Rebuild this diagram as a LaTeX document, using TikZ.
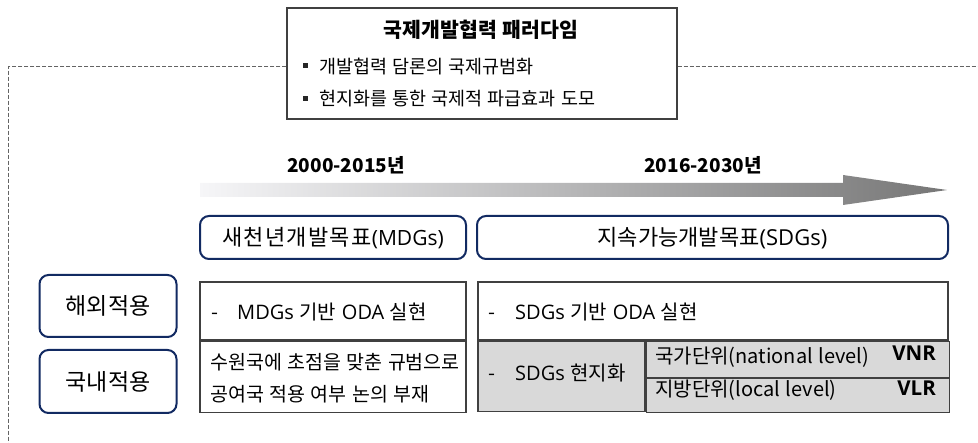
\documentclass[tikz,border=0pt]{standalone}
\usepackage{fontspec}
\setmainfont[WordSpace=1.25]{Noto Sans CJK KR}
\newfontfamily\lat{Open Sans}
\definecolor{navy}{RGB}{18,42,98}
\definecolor{tline}{RGB}{64,64,64}
\definecolor{cellgray}{RGB}{217,217,217}
\definecolor{dashgray}{RGB}{100,100,100}
\newcommand{\fs}[1]{\fontsize{#1}{#1}\selectfont}
\begin{document}
\begin{tikzpicture}[x=1pt,y=-1pt,
  topbox/.style={draw=tline,line width=1.3pt,minimum width=390pt,minimum height=111pt,inner sep=0},
  dashline/.style={draw=dashgray,line width=1pt,dash pattern=on 4pt off 2pt},
  bluebox/.style={draw=navy,line width=2pt,rounded corners=9pt,fill=white,inner sep=0,font=\fs{22},text height=19.4pt,text depth=2.6pt},
  labbox/.style={bluebox,font=\fs{23},text height=20.2pt,text depth=2.8pt,minimum width=137pt},
  cell/.style={draw=tline,line width=1.3pt,inner sep=0},
  txt/.style={anchor=west,inner sep=0,font=\fs{20},text height=17.6pt,text depth=2.4pt},
  stxt/.style={txt,font=\fs{19.5},text height=17.2pt,text depth=2.3pt},
  btxt/.style={anchor=west,inner sep=0,font=\fs{18.5},text height=16.3pt,text depth=2.2pt},
  yearlbl/.style={inner sep=0,font=\bfseries\fs{19}},
  bsq/.style={fill=black!85,minimum size=5pt,inner sep=0},
  codebold/.style={anchor=east,inner sep=0,font=\lat\bfseries\fs{20.5},text height=14.8pt,text depth=0pt}]
\useasboundingbox (0,0) rectangle (978,443);

% top box
\node[topbox] (top) at (482,63.5) {};
\node[inner sep=0,font=\bfseries\fs{20.5},text height=18pt,text depth=2.5pt] (title) at (481,30) {국제개발협력 패러다임};
\node[bsq] (sq1) at (305,66) {};
\node[btxt] (b1) at (319,66) {개발협력 담론의 국제규범화};
\node[bsq] (sq2) at (305,99) {};
\node[btxt] (b2) at (319,98) {현지화를 통한 국제적 파급효과 도모};

% dashed frame line
\coordinate (dl) at (8,67);
\coordinate (db) at (8,443);
\coordinate (dr) at (978,67);
\draw[dashline] (top.west |- dl) -- (dl) -- (db);
\draw[dashline] (top.east |- dr) -- (dr);

% timeline arrow
\shade[left color={rgb,255:red,246;green,246;blue,248},right color={rgb,255:red,118;green,118;blue,118}]
  (200,183) -- (843,183) -- (843,175) -- (947,190) -- (843,205) -- (843,197) -- (200,197) -- cycle;
\node[yearlbl] (y1) at (346,165) {2000-2015년};
\node[yearlbl] (y2) at (703,165) {2016-2030년};

% goal boxes
\node[bluebox,minimum width=266pt,minimum height=43pt] (mdg) at (333,237.5) {{\addfontfeature{LetterSpace=6}새천년개발목표}{\fs{21}\lat(MDGs)}};
\node[bluebox,minimum width=471pt,minimum height=43pt] (sdg) at (712.5,237.5) {지속가능개발목표{\lat(SDGs)}};

% row labels
\node[labbox,minimum height=62pt] (abroad) at (108,306) {해외적용};
\node[labbox,minimum height=63pt] (domestic) at (108,381.5) {국내적용};

% left table
\node[cell,minimum width=266pt,minimum height=58pt] (l1) at (333,311) {};
\node[cell,minimum width=266pt,minimum height=71pt,anchor=north] (l2) at (l1.south) {};
\node[txt] (l1d) at (211,312) {-};
\node[txt] (l1t) at (237,312) {{\lat MDGs} 기반 {\lat ODA} 실현};
\node[stxt] (l2a) at (210,362) {수원국에 초점을 맞춘 규범으로};
\node[stxt] (l2b) at (210,394) {공여국 적용 여부 논의 부재};

% right table
\node[cell,minimum width=470pt,minimum height=58pt] (r1) at (713,311) {};
\node[cell,fill=cellgray,minimum width=167pt,minimum height=70pt,anchor=north west] (r2) at (r1.south west) {};
\node[cell,fill=cellgray,minimum width=303pt,minimum height=36pt,anchor=north west] (r3) at (r2.north east) {};
\node[cell,fill=cellgray,minimum width=303pt,minimum height=34pt,anchor=north west] (r4) at (r3.south west) {};
\node[txt] (r1d) at (488,312) {-};
\node[txt] (r1t) at (515,312) {{\lat SDGs} 기반 {\lat ODA} 실현};
\node[txt] (r2d) at (488,373) {-};
\node[txt] (r2t) at (515,373) {{\lat SDGs} 현지화};
\node[txt] (r3t) at (655,356) {국가단위(national level)};
\node[codebold] (r3c) at (936,353.5) {VNR};
\node[txt] (r4t) at (655,389) {지방단위(local level)};
\node[codebold] (r4c) at (936,388.5) {VLR};
\end{tikzpicture}
\end{document}
